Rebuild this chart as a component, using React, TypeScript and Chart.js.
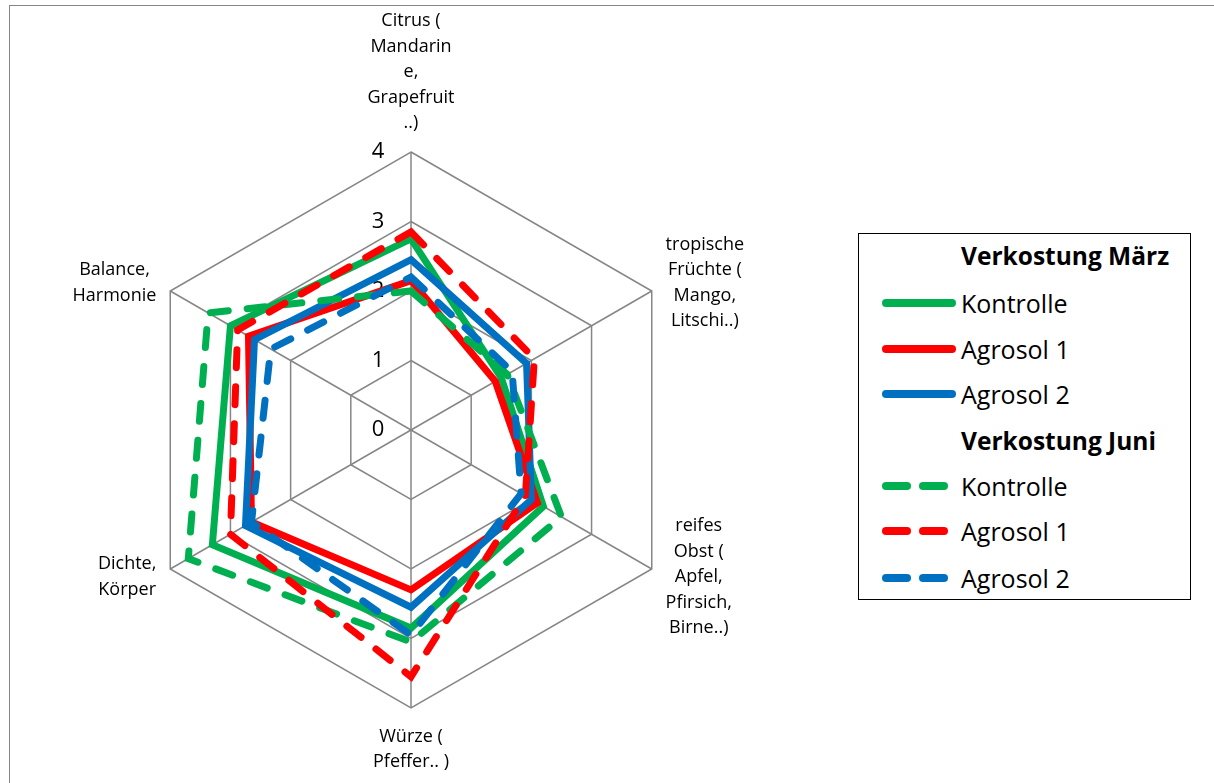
import { useEffect, useRef } from 'react';
import { Chart, registerables } from 'chart.js';

Chart.register(...registerables);

const categories = [
  'Citrus ( Mandarine, Grapefruit ..)',
  'tropische Früchte ( Mango, Litschi..)',
  'reifes Obst ( Apfel, Pfirsich, Birne..)',
  'Würze ( Pfeffer.. )',
  'Dichte, Körper',
  'Balance, Harmonie',
];

// wrapped the way the original chart breaks them
const categoryLines = [
  ['Citrus (', 'Mandarin', 'e,', 'Grapefruit', '..)'],
  ['tropische', 'Früchte (', 'Mango,', 'Litschi..)'],
  ['reifes', 'Obst (', 'Apfel,', 'Pfirsich,', 'Birne..)'],
  ['Würze (', 'Pfeffer.. )'],
  ['Dichte,', 'Körper'],
  ['Balance,', 'Harmonie'],
];

const tickLabels = ['0', '1', '2', '3', '4'];

// Verkostung März
const kontrolleMaerz = [2.75, 1.5, 2.2, 2.85, 3.3, 3.0];
const agrosol1Maerz = [2.15, 1.4, 2.1, 2.3, 2.65, 2.7];
const agrosol2Maerz = [2.45, 1.92, 2.0, 2.55, 2.75, 2.6];

// Verkostung Juni
const kontrolleJuni = [2.0, 1.6, 2.5, 3.05, 3.7, 3.37];
const agrosol1Juni = [2.85, 2.05, 1.9, 3.55, 3.0, 2.88];
const agrosol2Juni = [2.2, 1.68, 1.83, 2.95, 2.65, 2.33];

const GREEN = '#00B050';
const RED = '#FF0000';
const BLUE = '#0070C0';
const DASH = [18, 19];
const FONT = "'Open Sans', sans-serif";

const series = [
  { label: 'Kontrolle', data: kontrolleMaerz, color: GREEN, dashed: false },
  { label: 'Agrosol 1', data: agrosol1Maerz, color: RED, dashed: false },
  { label: 'Agrosol 2', data: agrosol2Maerz, color: BLUE, dashed: false },
  { label: 'Kontrolle', data: kontrolleJuni, color: GREEN, dashed: true },
  { label: 'Agrosol 1', data: agrosol1Juni, color: RED, dashed: true },
  { label: 'Agrosol 2', data: agrosol2Juni, color: BLUE, dashed: true },
];

// tick numbers left of the vertical axis, under the lines
const tickPlugin = {
  id: 'leftTicks',
  beforeDatasetsDraw(chart: any) {
    const scale = chart.scales.r;
    const ctx = chart.ctx;
    ctx.save();
    ctx.font = `22px ${FONT}`;
    ctx.fillStyle = '#000';
    ctx.textAlign = 'center';
    ctx.textBaseline = 'middle';
    tickLabels.forEach((t, i) => {
      const d = scale.getDistanceFromCenterForValue(i);
      ctx.fillText(t, scale.xCenter - 33, scale.yCenter - d);
    });
    ctx.restore();
  },
};

// multi-line category labels, placed like the spreadsheet does
const pointLabelPlugin = {
  id: 'blockLabels',
  afterDraw(chart: any) {
    const scale = chart.scales.r;
    const ctx = chart.ctx;
    const lh = 25.5;
    ctx.save();
    ctx.font = `18px ${FONT}`;
    ctx.fillStyle = '#000';
    ctx.textAlign = 'center';
    ctx.textBaseline = 'middle';
    categoryLines.forEach((lines, i) => {
      const p = scale.getPointPosition(i, scale.drawingArea + 16);
      const w = Math.max(...lines.map((l) => ctx.measureText(l).width));
      const h = lines.length * lh;
      let cx = p.x;
      let top = p.y - h / 2;
      if (i === 0) top = p.y - h;
      else if (i === 3) top = p.y;
      else if (i === 1 || i === 2) cx = p.x + w / 2;
      else cx = p.x - w / 2;
      lines.forEach((l, j) => ctx.fillText(l, cx, top + lh * j + lh / 2));
    });
    ctx.restore();
  },
};

function Swatch({ color, dashed }: { color: string; dashed: boolean }) {
  return (
    <svg width={80} height={14} style={{ position: 'absolute', left: 20, top: -7 }}>
      {dashed ? (
        <>
          <line x1={7} y1={7} x2={28} y2={7} stroke={color} strokeWidth={8} strokeLinecap="round" />
          <line x1={44} y1={7} x2={65} y2={7} stroke={color} strokeWidth={8} strokeLinecap="round" />
        </>
      ) : (
        <line x1={7} y1={7} x2={73} y2={7} stroke={color} strokeWidth={8} strokeLinecap="round" />
      )}
    </svg>
  );
}

function Legend() {
  const rowY = [22, 68.5, 115, 160, 207, 252, 297, 343.5];
  const rows: Array<{ text: string; header?: boolean; color?: string; dashed?: boolean }> = [
    { text: 'Verkostung März', header: true },
    ...series.slice(0, 3).map((s) => ({ text: s.label, color: s.color, dashed: s.dashed })),
    { text: 'Verkostung Juni', header: true },
    ...series.slice(3).map((s) => ({ text: s.label, color: s.color, dashed: s.dashed })),
  ];
  return (
    <div
      style={{
        position: 'absolute',
        left: 858,
        top: 233,
        width: 333,
        height: 367,
        border: '1.5px solid #000',
        boxSizing: 'border-box',
        background: '#fff',
        fontFamily: FONT,
        color: '#000',
      }}
    >
      {rows.map((r, i) => (
        <div key={i} style={{ position: 'absolute', left: 0, top: rowY[i], width: '100%' }}>
          {r.color && <Swatch color={r.color} dashed={!!r.dashed} />}
          <span
            style={{
              position: 'absolute',
              left: 102,
              top: -17,
              lineHeight: '34px',
              fontSize: r.header ? 24.5 : 25,
              fontWeight: r.header ? 700 : 400,
              whiteSpace: 'nowrap',
            }}
          >
            {r.text}
          </span>
        </div>
      ))}
    </div>
  );
}

export default function App() {
  const canvasRef = useRef<HTMLCanvasElement>(null);
  const chartRef = useRef<Chart | null>(null);

  useEffect(() => {
    if (!canvasRef.current) return;
    if (chartRef.current) chartRef.current.destroy();

    chartRef.current = new Chart(canvasRef.current, {
      type: 'radar',
      data: {
        labels: categories,
        datasets: series.map((s, i) => ({
          label: s.label,
          data: s.data,
          borderColor: s.color,
          backgroundColor: s.color,
          borderWidth: 7,
          borderDash: s.dashed ? DASH : [],
          borderCapStyle: s.dashed ? 'round' : 'butt',
          borderJoinStyle: 'miter',
          fill: false,
          pointRadius: 0,
          pointHoverRadius: 0,
          order: series.length - i,
        })),
      },
      options: {
        responsive: true,
        maintainAspectRatio: false,
        animation: false,
        layout: { padding: { left: 133, right: 525, top: 152, bottom: 75 } },
        plugins: {
          legend: { display: false },
          tooltip: { enabled: false },
        },
        scales: {
          r: {
            min: 0,
            max: 4,
            ticks: { stepSize: 1, display: false },
            pointLabels: { display: false },
            grid: { color: '#868686', lineWidth: 1.5 },
            angleLines: { color: '#868686', lineWidth: 1.5 },
          },
        },
      } as any,
      plugins: [tickPlugin, pointLabelPlugin],
    });

    return () => {
      if (chartRef.current) {
        chartRef.current.destroy();
        chartRef.current = null;
      }
    };
  }, []);

  return (
    <div style={{ position: 'fixed', left: 0, top: 0, width: 1214, height: 783, background: '#fff', overflow: 'hidden' }}>
      <div
        style={{
          position: 'absolute',
          left: 9,
          top: 5,
          width: 1300,
          height: 900,
          border: '1.5px solid #868686',
        }}
      />
      <div style={{ position: 'absolute', left: 0, top: 0, width: 1214, height: 783 }}>
        <canvas ref={canvasRef} />
      </div>
      <Legend />
    </div>
  );
}
